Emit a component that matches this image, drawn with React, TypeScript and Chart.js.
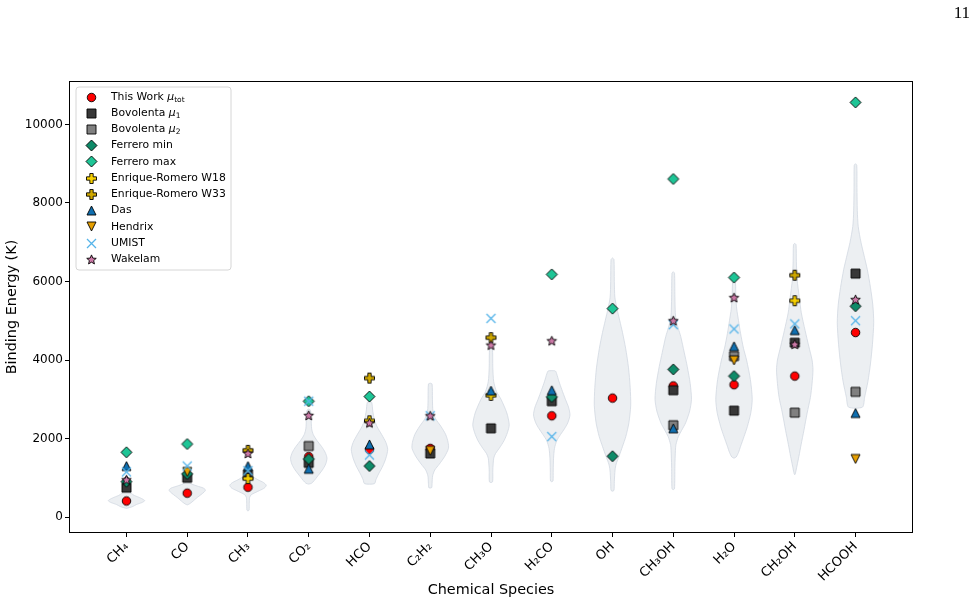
import { useEffect, useRef } from 'react';
import { Chart, registerables } from 'chart.js';

Chart.register(...registerables);

// Chemical species along the x axis
const species = ['CH₄', 'CO', 'CH₃', 'CO₂', 'HCO', 'C₂H₂', 'CH₃O', 'H₂CO', 'OH', 'CH₃OH', 'H₂O', 'CH₂OH', 'HCOOH'];

// Binding energies (K) per species; null where a source gives no value
const thisWork = [410, 610, 760, 1540, 1720, 1750, null, 2580, 3030, 3340, 3370, 3590, 4700];
const bovolentaMu1 = [750, 1000, 1080, 1380, null, 1620, 2260, 2950, null, 3230, 2710, 4440, 6200];
const bovolentaMu2 = [null, null, null, 1810, null, null, null, null, null, 2340, 4100, 2660, 3190];
const ferreroMin = [900, 1100, null, 1480, 1300, null, null, 3060, 1550, 3760, 3590, null, 5370];
const ferreroMax = [1650, 1860, null, 2950, 3070, null, null, 6180, 5310, 8610, 6100, null, 10560];
const enriqueW18 = [null, null, 980, null, 2450, null, 3100, null, null, null, null, 5510, null];
const enriqueW33 = [null, null, 1700, null, 3540, null, 4570, null, null, null, null, 6160, null];
const das = [1300, null, 1300, 1230, 1850, null, 3220, 3230, null, 2260, 4350, 4760, 2650];
const hendrix = [null, 1150, null, null, null, 1690, null, null, null, null, 3990, null, 1480];
const umist = [1150, 1300, 1180, 2950, 1580, 2580, 5060, 2050, null, 4900, 4790, 4920, 5000];
const wakelam = [950, null, 1620, 2590, 2400, 2580, 4380, 4490, null, 5000, 5590, 4400, 5540];

// Violin outlines: [binding energy (K), relative half-width 0..1], top to bottom
const violinCH4 = [[720, 0], [700, 0.12], [650, 0.2], [570, 0.35], [500, 0.7], [450, 0.92], [415, 1], [370, 0.85], [320, 0.55], [270, 0.35], [240, 0.15], [220, 0]];
const violinCO = [[910, 0], [880, 0.12], [840, 0.25], [790, 0.55], [740, 0.88], [690, 1], [640, 0.93], [570, 0.75], [500, 0.55], [440, 0.4], [380, 0.25], [330, 0.1], [310, 0]];
const violinCH3 = [[1260, 0], [1230, 0.08], [1100, 0.14], [1020, 0.3], [950, 0.55], [880, 0.85], [810, 1], [740, 0.9], [680, 0.65], [620, 0.38], [570, 0.18], [500, 0.09], [350, 0.07], [180, 0.06], [150, 0]];
const violinCO2 = [[2750, 0], [2720, 0.1], [2500, 0.13], [2250, 0.16], [2100, 0.25], [1950, 0.45], [1800, 0.7], [1650, 0.9], [1500, 1], [1350, 0.93], [1200, 0.75], [1050, 0.5], [930, 0.3], [860, 0.15], [840, 0]];
const violinHCO = [[2950, 0], [2920, 0.12], [2700, 0.18], [2480, 0.27], [2300, 0.42], [2100, 0.67], [1900, 0.9], [1720, 1], [1500, 0.9], [1300, 0.73], [1100, 0.5], [950, 0.35], [850, 0.27]];
const violinC2H2 = [[3410, 0], [3390, 0.1], [3000, 0.12], [2700, 0.15], [2500, 0.3], [2300, 0.6], [2100, 0.85], [1900, 0.98], [1750, 1], [1550, 0.8], [1350, 0.5], [1200, 0.25], [1050, 0.13], [850, 0.1], [750, 0.08], [740, 0]];
const violinCH3O = [[4330, 0], [4300, 0.08], [3800, 0.1], [3450, 0.15], [3200, 0.3], [3000, 0.55], [2650, 0.87], [2350, 1], [2150, 0.9], [1950, 0.72], [1750, 0.45], [1620, 0.25], [1500, 0.15], [1200, 0.1], [900, 0.09], [880, 0]];
const violinH2CO = [[3730, 0], [3720, 0.2], [3650, 0.27], [3450, 0.4], [3250, 0.55], [3000, 0.75], [2800, 0.92], [2600, 1], [2400, 0.88], [2250, 0.7], [2100, 0.48], [1950, 0.28], [1750, 0.15], [1500, 0.1], [1200, 0.08], [920, 0.07], [900, 0]];
const violinOH = [[6600, 0], [6560, 0.08], [6000, 0.1], [5600, 0.13], [5300, 0.25], [5000, 0.4], [4700, 0.55], [4300, 0.72], [3800, 0.88], [3300, 0.97], [2850, 1], [2400, 0.9], [2050, 0.73], [1800, 0.55], [1550, 0.36], [1350, 0.2], [1200, 0.14], [900, 0.1], [680, 0.08], [660, 0]];
const violinCH3OH = [[6250, 0], [6210, 0.07], [5600, 0.09], [5100, 0.13], [4800, 0.28], [4600, 0.41], [4200, 0.6], [3830, 0.77], [3400, 0.93], [3000, 1], [2700, 0.9], [2400, 0.68], [2200, 0.45], [2050, 0.28], [1850, 0.15], [1700, 0.12], [1300, 0.09], [720, 0.07], [700, 0]];
const violinH2O = [[6000, 0], [5960, 0.08], [5600, 0.1], [5300, 0.15], [5000, 0.25], [4680, 0.36], [4300, 0.52], [4000, 0.69], [3500, 0.9], [3000, 1], [2650, 0.92], [2300, 0.73], [2050, 0.55], [1800, 0.36], [1650, 0.25], [1530, 0.12], [1500, 0]];
const violinCH2OH = [[6970, 0], [6940, 0.07], [6500, 0.09], [6050, 0.13], [5600, 0.25], [5200, 0.36], [4750, 0.57], [4350, 0.77], [4000, 0.95], [3750, 1], [3400, 0.95], [3050, 0.86], [2650, 0.68], [2200, 0.5], [1850, 0.35], [1550, 0.23], [1300, 0.12], [1100, 0.03], [1080, 0]];
const violinHCOOH = [[9000, 0], [8960, 0.07], [8400, 0.08], [7800, 0.1], [7400, 0.15], [7000, 0.3], [6700, 0.45], [6300, 0.65], [5850, 0.82], [5400, 0.95], [4950, 1], [4400, 0.93], [3900, 0.82], [3450, 0.68], [3050, 0.5], [2800, 0.38]];

const violinProfiles = [violinCH4, violinCO, violinCH3, violinCO2, violinHCO, violinC2H2, violinCH3O, violinH2CO, violinOH, violinCH3OH, violinH2O, violinCH2OH, violinHCOOH];

const yTicks = [0, 2000, 4000, 6000, 8000, 10000];

const VIOLIN_HALF_WIDTH = 0.3;
const FONT = '"DejaVu Sans", sans-serif';

type Seg = { t: string; italic?: boolean; sub?: boolean };

// Draws a matplotlib-like filled marker into a small canvas used as pointStyle
function makeMarker(kind: string, fill: string, size: number): HTMLCanvasElement {
  const pad = 2;
  const dim = Math.ceil(size) + pad * 2 + ((Math.ceil(size) + 1) % 2);
  const c = document.createElement('canvas');
  c.width = dim;
  c.height = dim;
  const g = c.getContext('2d')!;
  g.translate(dim / 2, dim / 2);
  const r = size / 2;
  g.lineWidth = 0.9;
  g.strokeStyle = '#000';
  g.fillStyle = fill;
  g.lineJoin = 'miter';
  g.beginPath();
  if (kind === 'circle') {
    g.arc(0, 0, r, 0, Math.PI * 2);
  } else if (kind === 'square') {
    g.rect(-r, -r, 2 * r, 2 * r);
  } else if (kind === 'diamond') {
    g.moveTo(0, -r); g.lineTo(r, 0); g.lineTo(0, r); g.lineTo(-r, 0); g.closePath();
  } else if (kind === 'plus') {
    const a = r / 3;
    const pts = [[-a, -r], [a, -r], [a, -a], [r, -a], [r, a], [a, a], [a, r], [-a, r], [-a, a], [-r, a], [-r, -a], [-a, -a]];
    pts.forEach(([px, py], k) => (k ? g.lineTo(px, py) : g.moveTo(px, py)));
    g.closePath();
  } else if (kind === 'triUp') {
    g.moveTo(0, -r); g.lineTo(r, r); g.lineTo(-r, r); g.closePath();
  } else if (kind === 'triDown') {
    g.moveTo(0, r); g.lineTo(r, -r); g.lineTo(-r, -r); g.closePath();
  } else if (kind === 'star') {
    const inner = r * 0.45;
    for (let k = 0; k < 10; k++) {
      const rad = k % 2 === 0 ? r : inner;
      const ang = -Math.PI / 2 + (k * Math.PI) / 5;
      const px = rad * Math.cos(ang);
      const py = rad * Math.sin(ang) + r * 0.08;
      k ? g.lineTo(px, py) : g.moveTo(px, py);
    }
    g.closePath();
  } else if (kind === 'x') {
    g.moveTo(-r, -r); g.lineTo(r, r); g.moveTo(r, -r); g.lineTo(-r, r);
    g.lineWidth = 1.3;
    g.strokeStyle = fill;
    g.stroke();
    return c;
  }
  g.fill();
  g.stroke();
  return c;
}

export default function App() {
  const ref = useRef<HTMLCanvasElement>(null);

  useEffect(() => {
    const canvas = ref.current;
    if (!canvas) return;

    const series = [
      { label: [{ t: 'This Work ' }, { t: 'μ', italic: true }, { t: 'tot', sub: true }], values: thisWork, img: makeMarker('circle', '#ff0000', 8.5) },
      { label: [{ t: 'Bovolenta ' }, { t: 'μ', italic: true }, { t: '1', sub: true }], values: bovolentaMu1, img: makeMarker('square', '#383838', 9) },
      { label: [{ t: 'Bovolenta ' }, { t: 'μ', italic: true }, { t: '2', sub: true }], values: bovolentaMu2, img: makeMarker('square', '#808080', 9) },
      { label: [{ t: 'Ferrero min' }], values: ferreroMin, img: makeMarker('diamond', '#0e8a68', 11) },
      { label: [{ t: 'Ferrero max' }], values: ferreroMax, img: makeMarker('diamond', '#1ec596', 11) },
      { label: [{ t: 'Enrique-Romero W18' }], values: enriqueW18, img: makeMarker('plus', '#f7d000', 10) },
      { label: [{ t: 'Enrique-Romero W33' }], values: enriqueW33, img: makeMarker('plus', '#cfa800', 10) },
      { label: [{ t: 'Das' }], values: das, img: makeMarker('triUp', '#0f6fb0', 9) },
      { label: [{ t: 'Hendrix' }], values: hendrix, img: makeMarker('triDown', '#e69f00', 9) },
      { label: [{ t: 'UMIST' }], values: umist, img: makeMarker('x', '#56b4e9', 9) },
      { label: [{ t: 'Wakelam' }], values: wakelam, img: makeMarker('star', '#cc79a7', 10) },
    ];

    const datasets: any[] = [];

    violinProfiles.forEach((prof, i) => {
      const right = prof.map(([y, w]) => ({ x: i + w * VIOLIN_HALF_WIDTH, y }));
      const left = prof.slice().reverse().map(([y, w]) => ({ x: i - w * VIOLIN_HALF_WIDTH, y }));
      datasets.push({
        type: 'line',
        label: 'violin-' + i,
        data: [...right, ...left],
        fill: 'shape',
        backgroundColor: 'rgba(205,212,222,0.38)',
        borderColor: 'rgba(205,212,222,0.7)',
        borderWidth: 1,
        pointRadius: 0,
        tension: 0.25,
        order: 100,
      });
    });

    series.forEach((s, k) => {
      datasets.push({
        type: 'scatter',
        label: s.label.map((p) => p.t).join(''),
        data: s.values
          .map((v, i) => (v == null ? null : { x: i, y: v }))
          .filter((p) => p !== null),
        pointStyle: s.img,
        pointRadius: 5,
        order: series.length - k,
      });
    });

    const framePlugin = {
      id: 'frame',
      afterDatasetsDraw(chart: any) {
        const { ctx, chartArea: a } = chart;
        ctx.save();
        ctx.strokeStyle = '#000';
        ctx.lineWidth = 1;
        const l = Math.round(a.left) - 0.5;
        const t = Math.round(a.top) - 0.5;
        const r = Math.round(a.right) + 0.5;
        const b = Math.round(a.bottom) + 0.5;
        ctx.strokeRect(l, t, r - l, b - t);
        ctx.restore();
      },
    };

    const legendPlugin = {
      id: 'boxLegend',
      afterDraw(chart: any) {
        const { ctx, chartArea: a } = chart;
        const x0 = a.left + 6;
        const y0 = a.top + 5;
        const w = 155;
        const h = 183;
        const rr = 3;
        ctx.save();
        ctx.beginPath();
        ctx.moveTo(x0 + rr, y0);
        ctx.arcTo(x0 + w, y0, x0 + w, y0 + h, rr);
        ctx.arcTo(x0 + w, y0 + h, x0, y0 + h, rr);
        ctx.arcTo(x0, y0 + h, x0, y0, rr);
        ctx.arcTo(x0, y0, x0 + w, y0, rr);
        ctx.closePath();
        ctx.fillStyle = 'rgba(255,255,255,0.8)';
        ctx.fill();
        ctx.strokeStyle = '#d6d6d6';
        ctx.lineWidth = 1;
        ctx.stroke();

        series.forEach((s, k) => {
          const cy = y0 + 10 + k * 16.23;
          const img = s.img;
          ctx.drawImage(img, Math.round(x0 + 15 - img.width / 2), Math.round(cy - img.height / 2));
          let tx = x0 + 35;
          ctx.fillStyle = '#000';
          ctx.textBaseline = 'middle';
          (s.label as Seg[]).forEach((seg) => {
            if (seg.sub) {
              ctx.font = `7.5px ${FONT}`;
              ctx.fillText(seg.t, tx, cy + 3);
            } else {
              ctx.font = `${seg.italic ? 'italic ' : ''}10.8px ${FONT}`;
              ctx.fillText(seg.t, tx, cy);
            }
            tx += ctx.measureText(seg.t).width;
          });
        });
        ctx.restore();
      },
    };

    const chart = new Chart(canvas, {
      type: 'scatter',
      data: { datasets },
      options: {
        animation: false,
        responsive: false,
        events: [],
        layout: { padding: { top: 82, right: 64, left: 0, bottom: 0 } },
        plugins: { legend: { display: false }, tooltip: { enabled: false } },
        scales: {
          x: {
            type: 'linear',
            min: -0.93,
            max: 12.93,
            afterBuildTicks: (scale: any) => {
              scale.ticks = species.map((_, i) => ({ value: i }));
            },
            afterFit: (scale: any) => {
              scale.height = 73;
            },
            border: { display: false },
            grid: { drawOnChartArea: false, drawTicks: true, tickLength: 5, color: '#000', lineWidth: 1 },
            ticks: {
              autoSkip: false,
              minRotation: 45,
              maxRotation: 45,
              padding: 2,
              color: '#000',
              font: { family: FONT, size: 13 },
              callback: (v: any) => species[Math.round(Number(v))] ?? '',
            },
            title: {
              display: true,
              text: 'Chemical Species',
              color: '#000',
              font: { family: FONT, size: 14.4 },
              padding: { top: 0, bottom: 6 },
            },
          },
          y: {
            type: 'linear',
            min: -380,
            max: 11080,
            afterBuildTicks: (scale: any) => {
              scale.ticks = yTicks.map((v) => ({ value: v }));
            },
            afterFit: (scale: any) => {
              scale.width = 70;
            },
            border: { display: false },
            grid: { drawOnChartArea: false, drawTicks: true, tickLength: 5, color: '#000', lineWidth: 1 },
            ticks: {
              padding: 2,
              color: '#000',
              font: { family: FONT, size: 12 },
              callback: (v: any) => String(v),
            },
            title: {
              display: true,
              text: 'Binding Energy (K)',
              color: '#000',
              font: { family: FONT, size: 14.4 },
              padding: { top: 4, bottom: 0 },
            },
          },
        },
      },
      plugins: [framePlugin, legendPlugin],
    } as any);

    return () => chart.destroy();
  }, []);

  return (
    <div style={{ position: 'absolute', left: 0, top: 0, width: 976, height: 605, background: '#fff' }}>
      <canvas ref={ref} width={976} height={605} style={{ display: 'block' }} />
      <div
        style={{
          position: 'absolute',
          top: 3,
          right: 6,
          fontFamily: '"Liberation Serif", "DejaVu Serif", serif',
          fontSize: 17,
          color: '#000',
        }}
      >
        11
      </div>
    </div>
  );
}
